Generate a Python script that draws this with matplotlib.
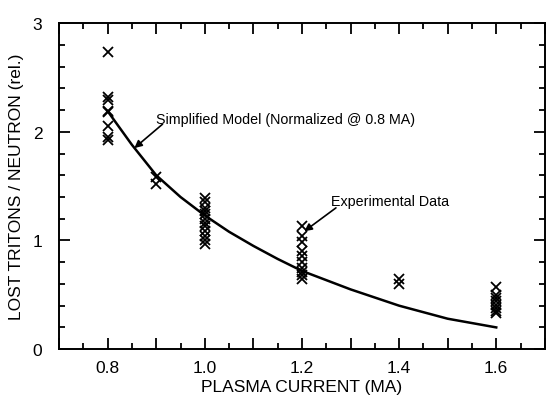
import matplotlib.pyplot as plt
from matplotlib.ticker import MultipleLocator, FixedLocator, FixedFormatter

# Experimental data (plasma current in MA, lost tritons / neutron)
exp_current = ([0.8] * 8 + [0.9] * 2 + [1.0] * 12 + [1.2] * 10
               + [1.4] * 2 + [1.6] * 8)
exp_value = [2.73, 2.32, 2.29, 2.19, 2.18, 2.05, 1.95, 1.92,
             1.58, 1.52,
             1.39, 1.35, 1.30, 1.27, 1.24, 1.20, 1.16, 1.13, 1.09, 1.04, 1.00, 0.97,
             1.13, 1.04, 0.99, 0.90, 0.86, 0.80, 0.75, 0.71, 0.68, 0.65,
             0.65, 0.60,
             0.57, 0.50, 0.47, 0.44, 0.41, 0.38, 0.35, 0.33]

# Simplified model curve
model_current = [0.8, 0.85, 0.9, 0.95, 1.0, 1.05, 1.1, 1.15, 1.2, 1.3, 1.4, 1.5, 1.6]
model_value = [2.19, 1.88, 1.60, 1.40, 1.23, 1.08, 0.95, 0.83, 0.72, 0.55, 0.40, 0.28, 0.20]

x_ticks = [0.7, 0.8, 0.9, 1.0, 1.1, 1.2, 1.3, 1.4, 1.5, 1.6, 1.7]
x_labels = ["", "0.8", "", "1.0", "", "1.2", "", "1.4", "", "1.6", ""]

plt.rcParams["font.family"] = ["Liberation Sans", "DejaVu Sans"]

fig = plt.figure(figsize=(5.52, 4.02), dpi=100)
ax = fig.add_axes([0.107, 0.129, 0.880, 0.811])

ax.plot(model_current, model_value, color="black", lw=1.8)
ax.plot(exp_current, exp_value, "x", color="black", ms=6.5, mew=1.3)

ax.set_xlim(0.7, 1.7)
ax.set_ylim(0, 3)

ax.xaxis.set_major_locator(FixedLocator(x_ticks))
ax.xaxis.set_major_formatter(FixedFormatter(x_labels))
ax.xaxis.set_minor_locator(MultipleLocator(0.05))
ax.yaxis.set_major_locator(MultipleLocator(1))
ax.yaxis.set_minor_locator(MultipleLocator(0.2))

ax.tick_params(which="both", direction="in", top=True, right=True,
               width=1.3, labelsize=12.5, pad=8)
ax.tick_params(axis="y", pad=12)
ax.tick_params(which="major", length=8)
ax.tick_params(which="minor", length=4)
for s in ax.spines.values():
    s.set_linewidth(1.4)

ax.set_xlabel("PLASMA CURRENT (MA)", fontsize=12.5, labelpad=3)
ax.set_ylabel("LOST TRITONS / NEUTRON (rel.)", fontsize=12.5, labelpad=6)

arrow = dict(arrowstyle="-|>", color="black", lw=1.2,
             shrinkA=0, shrinkB=0, mutation_scale=11)

ax.text(0.90, 2.12, "Simplified Model (Normalized @ 0.8 MA)", fontsize=10.3,
        va="center")
ax.annotate("", xy=(0.855, 1.85), xytext=(0.913, 2.07), arrowprops=arrow)

ax.text(1.26, 1.36, "Experimental Data", fontsize=10.3, va="center")
ax.annotate("", xy=(1.205, 1.085), xytext=(1.27, 1.30), arrowprops=arrow)

fig.savefig("out.png", dpi=100)
